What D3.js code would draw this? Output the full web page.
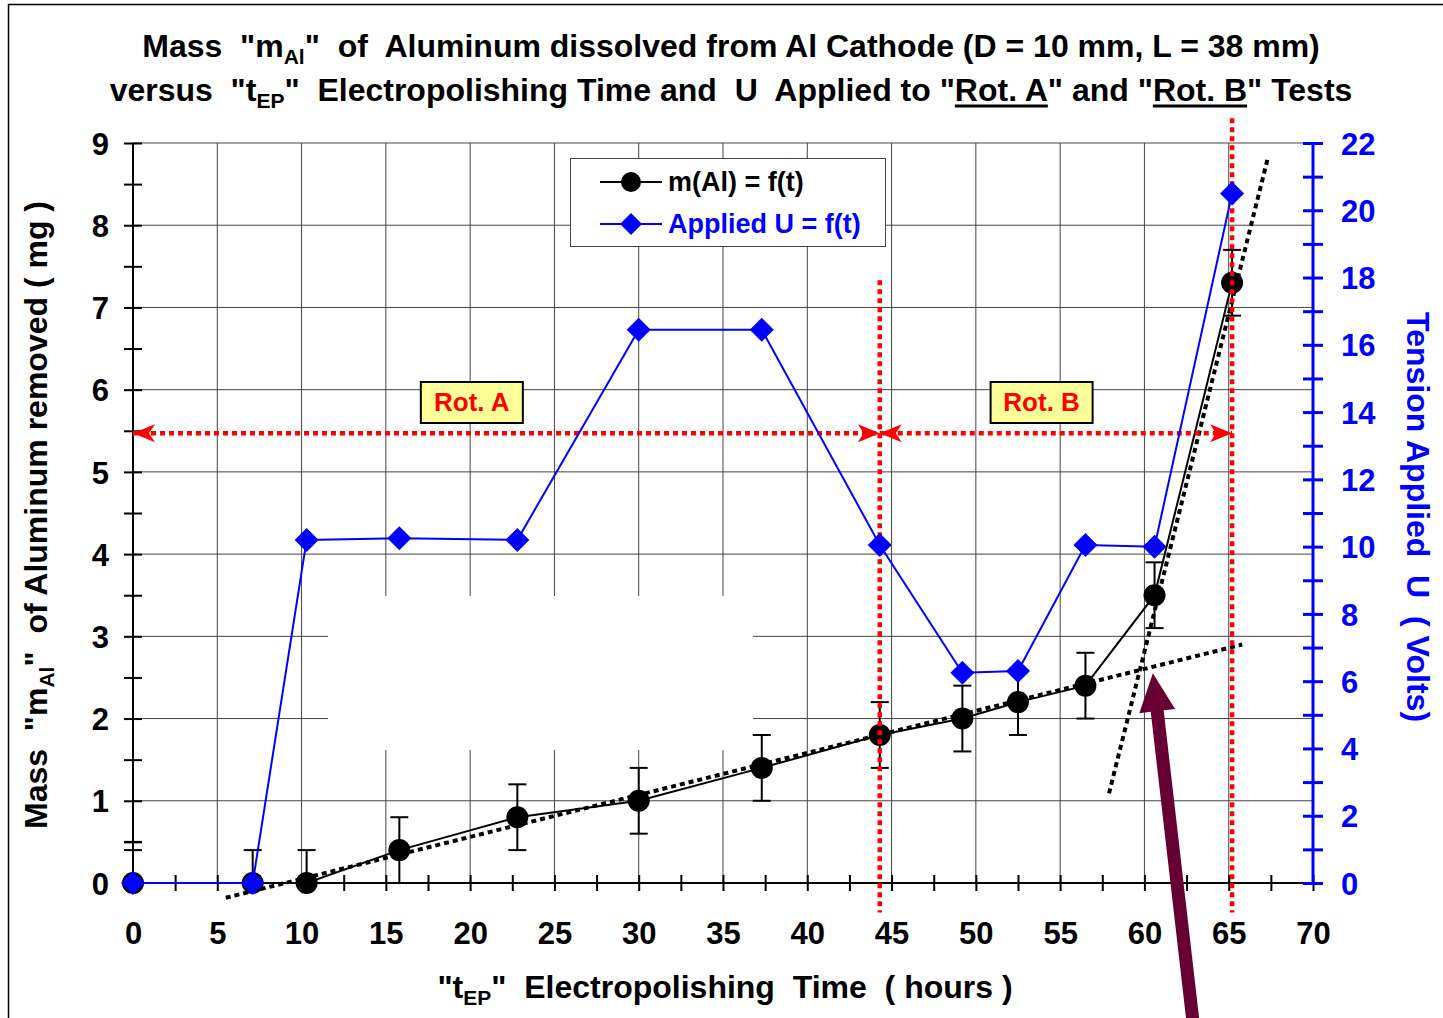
<!DOCTYPE html>
<html><head><meta charset="utf-8">
<script src="https://cdn.jsdelivr.net/npm/d3@7"></script>
<style>
body{margin:0;background:#fff;}
text{font-family:"Liberation Sans",Arial,sans-serif;font-weight:bold;white-space:pre;}
</style></head>
<body><svg id="c" width="1443" height="1018"></svg>
<script>
// ---------------- data ----------------
const time    = [0, 7.1, 10.3, 15.8, 22.8, 30.0, 37.3, 44.3, 49.2, 52.5, 56.5, 60.6, 65.2];
const mass    = [0, 0, 0, 0.4, 0.8, 1.0, 1.4, 1.8, 2.0, 2.2, 2.4, 3.5, 7.3];
const errHigh = [0.5, 0.4, 0.4, 0.4, 0.4, 0.4, 0.4, 0.4, 0.4, 0.4, 0.4, 0.4, 0.4];
const errLow  = [0.4, 0.4, 0.4, 0.4, 0.4, 0.4, 0.4, 0.4, 0.4, 0.4, 0.4, 0.4, 0.4];
const extraCaps = [[0, 0.4]];
const voltage = [0, 0, 10.2, 10.25, 10.2, 16.45, 16.45, 10.05, 6.25, 6.3, 10.05, 10.0, 20.5];
const trendA  = [[5.5, -0.18], [65.8, 2.9]];
const trendB  = [[57.9, 1.09], [67.3, 8.8]];
const rotLines = [[44.3, 7.33, -0.36], [65.2, 9.3, -0.36]];
const rotSpans = [[0, 44.3, 5.47], [44.3, 65.2, 5.47]];
const rotLabels = [["Rot. A", 20.1, 5.85], ["Rot. B", 53.9, 5.85]];
const arrowTip = [60.5, 2.55], arrowTail = [63.0, -1.9];
const xTicks = d3.range(0, 71, 5);
const yTicks = d3.range(0, 10, 1);
const y2Ticks = d3.range(0, 23, 2);

// ---------------- setup ----------------
const svg = d3.select("#c");
const x = d3.scaleLinear().domain([0, 70]).range([133, 1313]);
const y = d3.scaleLinear().domain([0, 9]).range([883, 143]);
const y2 = d3.scaleLinear().domain([0, 22]).range([883, 143]);
const BLUE = "#0000ff", RED = "#ff0000";
const TICKFS = 31, TITLEFS = 32;

svg.append("rect").attr("x", 8.5).attr("y", 4.5).attr("width", 1460).attr("height", 1040)
  .attr("fill", "#fff").attr("stroke", "#000").attr("stroke-width", 1.5);

// gridlines
const grid = svg.append("g").attr("stroke", "#444").attr("stroke-width", 1);
grid.selectAll(".gv").data(xTicks.filter(d => d > 0 && d < 70)).join("line")
  .attr("x1", d => x(d)).attr("x2", d => x(d)).attr("y1", y(0)).attr("y2", y(9));
grid.selectAll(".gh").data(yTicks.filter(d => d > 0)).join("line")
  .attr("x1", x(0)).attr("x2", x(70)).attr("y1", d => y(d)).attr("y2", d => y(d));
// blank patch (as in the original)
svg.append("rect").attr("x", 328).attr("y", 596).attr("width", 425).attr("height", 154).attr("fill", "#fff");

// ---------------- axes ----------------
const gx = svg.append("g").attr("transform", `translate(0,${y(0)})`)
  .call(d3.axisBottom(x).tickValues(d3.range(0, 70.1, 2.5)).tickSize(0).tickFormat(d => d % 5 === 0 ? d : ""));
gx.select(".domain").remove();
gx.selectAll(".tick line").attr("y1", -8).attr("y2", 8).attr("stroke", "#000").attr("stroke-width", 2);
gx.selectAll(".tick text").attr("y", 39).attr("dy", "0.71em").attr("fill", "#000").style("font-size", TICKFS + "px");
svg.append("line").attr("x1", x(0)).attr("x2", x(70)).attr("y1", y(0)).attr("y2", y(0)).attr("stroke", "#000").attr("stroke-width", 2);

const gy = svg.append("g").attr("transform", `translate(${x(0)},0)`)
  .call(d3.axisLeft(y).tickValues(d3.range(0, 9.01, 0.5)).tickSize(0).tickFormat(d => Number.isInteger(d) ? d : ""));
gy.select(".domain").remove();
gy.selectAll(".tick line").attr("x1", -9).attr("x2", 9).attr("stroke", "#000").attr("stroke-width", 2);
gy.selectAll(".tick text").attr("x", -24).attr("dy", "0.36em").attr("fill", "#000").style("font-size", TICKFS + "px");
svg.append("line").attr("x1", x(0)).attr("x2", x(0)).attr("y1", y(0)).attr("y2", y(9)).attr("stroke", "#000").attr("stroke-width", 2);

const gy2 = svg.append("g").attr("transform", `translate(${x(70)},0)`)
  .call(d3.axisRight(y2).tickValues(d3.range(0, 22.01, 1)).tickSize(0).tickFormat(d => d % 2 === 0 ? d : ""));
gy2.select(".domain").remove();
gy2.selectAll(".tick line").attr("x1", -10).attr("x2", 10).attr("stroke", BLUE).attr("stroke-width", 3);
gy2.selectAll(".tick text").attr("x", 28).attr("dy", "0.36em").attr("fill", BLUE).style("font-size", TICKFS + "px");
svg.append("line").attr("x1", x(70)).attr("x2", x(70)).attr("y1", y2(0)).attr("y2", y2(22)).attr("stroke", BLUE).attr("stroke-width", 3);

// ---------------- trend lines ----------------
const line = d3.line().x(d => x(d[0])).y(d => y(d[1]));
[trendA, trendB].forEach(tr => {
  svg.append("path").attr("d", line(tr)).attr("fill", "none").attr("stroke", "#000")
    .attr("stroke-width", 4).attr("stroke-dasharray", "5,4");
});

// ---------------- mass series ----------------
const massPts = time.map((t, i) => ({t, m: mass[i], hi: errHigh[i], lo: errLow[i]}));
svg.append("path").attr("d", line(massPts.map(d => [d.t, d.m]))).attr("fill", "none")
  .attr("stroke", "#000").attr("stroke-width", 2);
const eb = svg.append("g").attr("stroke", "#000").attr("stroke-width", 2);
massPts.forEach(d => {
  const top = d.m + d.hi, bot = Math.max(0, d.m - d.lo);
  eb.append("line").attr("x1", x(d.t)).attr("x2", x(d.t)).attr("y1", y(top)).attr("y2", y(bot));
  eb.append("line").attr("x1", x(d.t) - 9).attr("x2", x(d.t) + 9).attr("y1", y(top)).attr("y2", y(top));
  if (d.m - d.lo >= 0)
    eb.append("line").attr("x1", x(d.t) - 9).attr("x2", x(d.t) + 9).attr("y1", y(bot)).attr("y2", y(bot));
});
extraCaps.forEach(c => {
  eb.append("line").attr("x1", x(c[0]) - 9).attr("x2", x(c[0]) + 9).attr("y1", y(c[1])).attr("y2", y(c[1]));
});
svg.selectAll(".mdot").data(massPts).join("circle")
  .attr("cx", d => x(d.t)).attr("cy", d => y(d.m)).attr("r", 11).attr("fill", "#000");

// ---------------- red rotation markers ----------------
const defs = svg.append("defs");
defs.append("marker").attr("id", "ah").attr("viewBox", "0 -10 24 20").attr("refX", 22).attr("refY", 0)
  .attr("markerWidth", 24).attr("markerHeight", 20).attr("markerUnits", "userSpaceOnUse").attr("orient", "auto-start-reverse")
  .append("path").attr("d", "M0,-9 L22,0 L0,9 L6,0 Z").attr("fill", RED);
const red = svg.append("g");
rotLines.forEach(r => {
  red.append("line").attr("x1", x(r[0])).attr("x2", x(r[0])).attr("y1", y(r[1])).attr("y2", y(r[2]))
    .attr("stroke", RED).attr("stroke-width", 4.5).attr("stroke-dasharray", "5,4");
});
rotSpans.forEach(r => {
  red.append("line").attr("x1", x(r[0])).attr("x2", x(r[1])).attr("y1", y(r[2])).attr("y2", y(r[2]))
    .attr("stroke", RED).attr("stroke-width", 4.5).attr("stroke-dasharray", "5,4")
    .attr("marker-start", "url(#ah)").attr("marker-end", "url(#ah)");
});
rotLabels.forEach(r => {
  const cx = x(r[1]), cy = y(r[2]);
  red.append("rect").attr("x", cx - 51).attr("y", cy - 20).attr("width", 102).attr("height", 41)
    .attr("fill", "#ffff99").attr("stroke", "#000").attr("stroke-width", 2);
  red.append("text").attr("x", cx).attr("y", cy + 9).attr("text-anchor", "middle")
    .attr("fill", RED).style("font-size", "26px").text(r[0]);
});

// ---------------- voltage series ----------------
const vPts = time.map((t, i) => [t, voltage[i]]);
svg.append("path").attr("d", d3.line().x(d => x(d[0])).y(d => y2(d[1]))(vPts))
  .attr("fill", "none").attr("stroke", BLUE).attr("stroke-width", 2);
const diamond = "M0,-12 L12,0 L0,12 L-12,0 Z";
svg.selectAll(".vd").data(vPts).join("path").attr("d", diamond)
  .attr("transform", d => `translate(${x(d[0])},${y2(d[1])})`).attr("fill", BLUE);

// ---------------- maroon arrow ----------------
(function () {
  const tx = x(arrowTip[0]), ty = y(arrowTip[1]);
  const bx = x(arrowTail[0]), by = y(arrowTail[1]);
  const dx = bx - tx, dy = by - ty, L = Math.hypot(dx, dy);
  const ux = dx / L, uy = dy / L, px = -uy, py = ux;
  const headL = 38, headW = 18, shaftW = 6.5;
  const hx = tx + ux * headL, hy = ty + uy * headL;
  const pts = [
    [tx, ty],
    [hx + px * headW, hy + py * headW],
    [hx + px * shaftW, hy + py * shaftW],
    [bx + px * shaftW, by + py * shaftW],
    [bx - px * shaftW, by - py * shaftW],
    [hx - px * shaftW, hy - py * shaftW],
    [hx - px * headW, hy - py * headW]
  ];
  svg.append("path").attr("d", "M" + pts.map(p => p.join(",")).join("L") + "Z").attr("fill", "#660033");
})();

// ---------------- legend ----------------
const lg = svg.append("g");
lg.append("rect").attr("x", 570.5).attr("y", 158.5).attr("width", 315).attr("height", 88)
  .attr("fill", "#fff").attr("stroke", "#444").attr("stroke-width", 1);
lg.append("line").attr("x1", 600).attr("x2", 662).attr("y1", 182).attr("y2", 182).attr("stroke", "#000").attr("stroke-width", 2);
lg.append("circle").attr("cx", 631).attr("cy", 182).attr("r", 10).attr("fill", "#000");
lg.append("text").attr("x", 668).attr("y", 191).attr("fill", "#000").style("font-size", "27px").text("m(Al) = f(t)");
lg.append("line").attr("x1", 600).attr("x2", 662).attr("y1", 224).attr("y2", 224).attr("stroke", BLUE).attr("stroke-width", 2);
lg.append("path").attr("d", "M0,-11 L11,0 L0,11 L-11,0 Z").attr("transform", "translate(631,224)").attr("fill", BLUE);
lg.append("text").attr("x", 668).attr("y", 233).attr("fill", BLUE).style("font-size", "27px").text("Applied U = f(t)");

// ---------------- titles ----------------
function richText(parent, parts, attrs, size) {
  const t = parent.append("text").style("font-size", size + "px");
  Object.entries(attrs).forEach(([k, v]) => t.attr(k, v));
  const spans = [];
  parts.forEach(p => {
    const s = t.append("tspan").text(p.s);
    if (p.sub) s.style("font-size", Math.round(size * 0.65) + "px").attr("dy", size * 0.22);
    if (p.after) s.attr("dy", -size * 0.22);
    spans.push({el: s, p});
  });
  return {t, spans};
}
richText(svg, [
  {s: 'Mass  "m'}, {s: "Al", sub: true}, {s: '"  of  Aluminum dissolved from Al Cathode (D = 10 mm, L = 38 mm)', after: true}
], {x: 731, y: 57, "text-anchor": "middle", fill: "#000"}, TITLEFS);
const t2 = richText(svg, [
  {s: 'versus  "t'}, {s: "EP", sub: true}, {s: '"  Electropolishing Time and  U  Applied to "', after: true},
  {s: "Rot. A", ul: true}, {s: '" and "'}, {s: "Rot. B", ul: true}, {s: '" Tests'}
], {x: 731, y: 101, "text-anchor": "middle", fill: "#000"}, TITLEFS);
t2.spans.filter(s => s.p.ul).forEach(s => {
  const b = s.el.node().getBBox();
  svg.append("line").attr("x1", b.x).attr("x2", b.x + b.width).attr("y1", 106).attr("y2", 106)
    .attr("stroke", "#000").attr("stroke-width", 3);
});

richText(svg, [
  {s: '"t'}, {s: "EP", sub: true}, {s: '"  Electropolishing  Time  ( hours )', after: true}
], {x: 725, y: 998, "text-anchor": "middle", fill: "#000"}, TITLEFS);

richText(svg, [
  {s: 'Mass  "m'}, {s: "Al", sub: true}, {s: '"  of Aluminum removed ( mg )', after: true}
], {transform: "translate(47,515) rotate(-90)", "text-anchor": "middle", fill: "#000"}, TITLEFS);

svg.append("text").attr("transform", "translate(1407,517) rotate(90)").attr("text-anchor", "middle")
  .attr("fill", BLUE).style("font-size", TITLEFS + "px").text("Tension Applied  U  ( Volts)");
</script></body></html>
